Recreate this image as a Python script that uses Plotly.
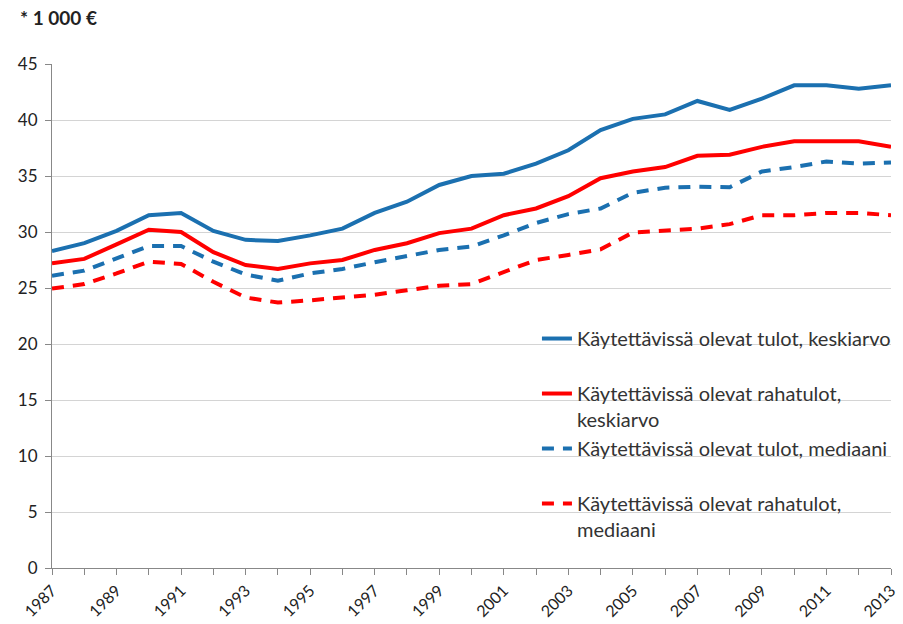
import plotly.graph_objects as go

years = list(range(1987, 2014))

tulot_keskiarvo = [28.3, 29.0, 30.1, 31.5, 31.7, 30.1, 29.3, 29.2, 29.7, 30.3,
                   31.7, 32.7, 34.2, 35.0, 35.2, 36.1, 37.3, 39.1, 40.1, 40.5,
                   41.7, 40.9, 41.9, 43.1, 43.1, 42.8, 43.1]
rahatulot_keskiarvo = [27.2, 27.6, 28.9, 30.2, 30.0, 28.2, 27.05, 26.7, 27.2, 27.5,
                       28.4, 29.0, 29.9, 30.3, 31.5, 32.1, 33.2, 34.8, 35.4, 35.8,
                       36.8, 36.9, 37.6, 38.1, 38.1, 38.1, 37.6]
tulot_mediaani = [26.1, 26.55, 27.65, 28.75, 28.75, 27.35, 26.2, 25.65, 26.3, 26.7,
                  27.3, 27.85, 28.4, 28.7, 29.7, 30.8, 31.6, 32.1, 33.5, 33.95,
                  34.05, 34.0, 35.4, 35.8, 36.3, 36.1, 36.2]
rahatulot_mediaani = [24.95, 25.35, 26.3, 27.35, 27.15, 25.55, 24.15, 23.7, 23.9, 24.15,
                      24.4, 24.8, 25.2, 25.35, 26.4, 27.5, 27.95, 28.45, 29.95, 30.1,
                      30.3, 30.7, 31.5, 31.5, 31.7, 31.7, 31.5]

series_names = [
    "Käytettävissä olevat tulot, keskiarvo<br> ",
    "Käytettävissä olevat rahatulot,<br>keskiarvo",
    "Käytettävissä olevat tulot, mediaani<br> ",
    "Käytettävissä olevat rahatulot,<br>mediaani",
]
y_ticks = [0, 5, 10, 15, 20, 25, 30, 35, 40, 45]
x_ticktext = [str(y) if (y - 1987) % 2 == 0 else "" for y in years]

BLUE = "#1B70B0"
RED = "#FF0000"
styles = [(BLUE, "solid"), (RED, "solid"), (BLUE, "12px,9px"), (RED, "12px,9px")]
data = [tulot_keskiarvo, rahatulot_keskiarvo, tulot_mediaani, rahatulot_mediaani]

fig = go.Figure()
for i, (name, vals, (col, dash)) in enumerate(zip(series_names, data, styles)):
    fig.add_trace(go.Scatter(
        x=years, y=vals, name=name, mode="lines",
        line=dict(color=col, width=4, dash=dash),
        legendgroup=f"g{i}",
    ))

FONT = "Lato"
fig.update_layout(
    width=903, height=624,
    margin=dict(l=52, r=7, t=64, b=56),
    plot_bgcolor="white", paper_bgcolor="white",
    font=dict(family=FONT, size=15, color="#222222"),
    showlegend=True,
    legend=dict(
        x=0.578, y=0.494, xanchor="left", yanchor="top",
        bgcolor="rgba(0,0,0,0)", font=dict(size=20, color="#333333"),
        tracegroupgap=19, valign="top", traceorder="normal",
    ),
    xaxis=dict(
        range=[1987, 2013], tickmode="array", tickvals=years, ticktext=x_ticktext,
        tickangle=-45, ticks="outside", ticklen=6, tickcolor="#888888",
        showline=True, linecolor="#888888", linewidth=1, showgrid=False,
        zeroline=False, tickfont=dict(size=16, color="#222222"), automargin=False,
        ticklabeloverflow="allow",
    ),
    yaxis=dict(
        range=[0, 45], tickmode="array", tickvals=y_ticks,
        ticks="outside", ticklen=6, tickcolor="#888888",
        showline=True, linecolor="#888888", linewidth=1,
        showgrid=True, gridcolor="#d4d4d4", gridwidth=1,
        zeroline=False, tickfont=dict(size=17, color="#222222"), automargin=False,
        ticklabelstandoff=4,
    ),
    annotations=[dict(
        text="<b>* 1 000 €</b>", xref="paper", yref="paper",
        x=-0.041, y=1.092, xanchor="left", yanchor="middle",
        showarrow=False, font=dict(size=19, color="#222222", family=FONT),
    )],
)

fig.write_html("out.html", config={"displayModeBar": False},
               post_script="document.body.style.margin='0px';")
